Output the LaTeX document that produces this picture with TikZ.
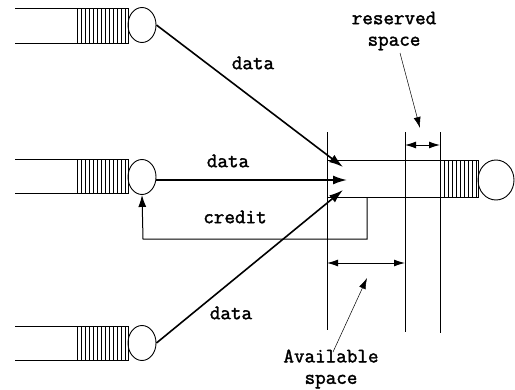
\documentclass[tikz,border=0pt]{standalone}
\usepackage{fontspec}
\setmonofont{Latin Modern Mono}[AutoFakeBold=1.8]
\usetikzlibrary{arrows.meta}
\usetikzlibrary{shapes.geometric}
\tikzset{
  srv/.style={draw, ellipse, inner sep=0pt, minimum width=28pt, minimum height=35pt},
  flow/.style={line width=1.6pt, -{Latex[length=14pt, width=9pt]}},
  thinarrow/.style={line width=0.5pt, -{Latex[length=11pt, width=7pt]}},
  dim/.style={line width=0.9pt, {Latex[length=11pt, width=7pt]}-{Latex[length=11pt, width=7pt]}},
  lbl/.style={font=\ttfamily\bfseries\fontsize{20.5}{21.5}\selectfont, align=center, inner sep=0pt}
}

\begin{document}
\begin{tikzpicture}[x=1pt, y=-1pt, line width=0.9pt]
      \useasboundingbox (0, 0) rectangle (515, 389);

      % input queues on the left
      \foreach \yt/\yb in {8/43, 159/193, 326/360} {
        \draw (15, \yt) -- (128, \yt) -- (128, \yb) -- (15, \yb);
        \foreach \x in {77, 81, ..., 125} {
          \draw [line width=0.8pt] (\x, \yt) -- (\x, \yb);
        }
      }
      \node [srv] (srvA) at (142, 25) {};
      \node [srv] (srvB) at (142, 177) {};
      \node [srv] (srvC) at (142, 343) {};

      % output queue with its boundaries
      \draw (327, 160) -- (478, 160) -- (478, 197) -- (327, 197);
      \foreach \x in {440, 444, ..., 476} {
        \draw [line width=0.8pt] (\x, 160) -- (\x, 197);
      }
      \node [srv, minimum width=36pt, minimum height=40pt] (srvR) at (496, 180) {};

      \draw (327, 132) -- (327, 330);
      \draw (405, 132) -- (405, 332);
      \draw (440, 132) -- (440, 333);

      % data flows
      \coordinate (inA) at (343, 167);
      \coordinate (inB) at (347, 180);
      \coordinate (inC) at (343, 190);
      \draw [flow] (srvA.east) -- (inA);
      \draw [flow] (156, 180) -- (inB);
      \draw [flow] (srvC.east) -- (inC);

      \node [lbl] (dataA) at (253, 63) {data};
      \node [lbl] (dataB) at (228, 161) {data};
      \node [lbl] (dataC) at (231, 313) {data};

      % credit path back to the middle server
      \coordinate (cr) at (367, 197);
      \draw [line width=1pt, -{Latex[length=12pt, width=8pt]}] (cr) -- (367, 239) -- (143, 239) -- (srvB.south);
      \node [lbl] (credit) at (235, 217) {credit};

      % space markers
      \draw [dim] (405, 145) -- (440, 145);
      \draw [dim] (327, 263) -- (405, 263);

      \node [lbl] (resv) at (394, 31) {reserved\\space};
      \node [lbl] (avail) at (331, 369) {Available\\space};
      \coordinate (resvTip) at (420, 128);
      \coordinate (availTip) at (367, 278);
      \draw [thinarrow] (400, 53) -- (resvTip);
      \draw [thinarrow] (333, 352) -- (availTip);
    \end{tikzpicture}
\end{document}
